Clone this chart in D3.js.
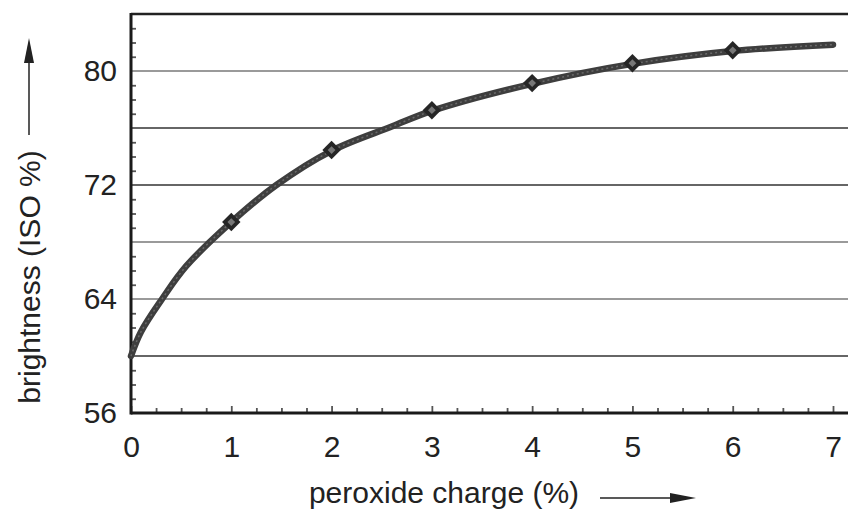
<!DOCTYPE html>
<html>
<head>
<meta charset="utf-8">
<script src="https://cdn.jsdelivr.net/npm/d3@7"></script>
<style>
  body { margin: 0; background: #fff; }
  text { font-family: "Liberation Sans", Arial, Helvetica, sans-serif; fill: #222; }
</style>
</head>
<body>
<svg id="chart" width="848" height="512"></svg>
<script>
// measured points (diamonds)
const charge = [1, 2, 3, 4, 5, 6];
const brightness = [69.4, 74.45, 77.25, 79.15, 80.55, 81.45];

// fitted curve
const curveCharge = [0, 0.1, 0.31, 0.55, 1, 1.45, 2, 2.6, 3, 4, 5, 6, 7];
const curveBrightness = [60, 61.7, 64, 66.3, 69.4, 72, 74.4, 76.1, 77.2, 79.1, 80.5, 81.4, 81.85];

const xTicks = [0, 1, 2, 3, 4, 5, 6, 7];
const yTicks = [56, 64, 72, 80];
const gridValues = [60, 64, 68, 72, 76, 80];

const svg = d3.select('#chart');
const x = d3.scaleLinear().domain([0, 7]).range([131, 833]);
const y = d3.scaleLinear().domain([56, 80]).range([413, 71]);
const rightEdge = 848;
const topY = y(84);

// gridlines, alternate grey / dark like the scan
const lightGrid = new Set([80, 68, 64]);
svg.append('g').selectAll('line')
    .data(gridValues)
    .join('line')
    .attr('x1', x(0)).attr('x2', rightEdge)
    .attr('y1', d => y(d)).attr('y2', d => y(d))
    .attr('stroke', d => lightGrid.has(d) ? '#9a9a9a' : '#333')
    .attr('stroke-width', d => lightGrid.has(d) ? 2 : 1.4);

// top border
svg.append('line')
    .attr('x1', x(0)).attr('x2', rightEdge)
    .attr('y1', topY).attr('y2', topY)
    .attr('stroke', '#222').attr('stroke-width', 2.5);

// x axis: minor ticks + labelled major ticks
const xMinor = d3.range(0, 29).map(i => i * 0.25).filter(v => v % 1 !== 0);
const xMinorAxis = svg.append('g')
    .attr('transform', `translate(0,${y(56)})`)
    .call(d3.axisBottom(x).tickValues(xMinor).tickSize(-5).tickFormat(''));
const xAxis = svg.append('g')
    .attr('transform', `translate(0,${y(56)})`)
    .call(d3.axisBottom(x).tickValues(xTicks).tickSize(-7).tickPadding(23).tickFormat(d3.format('d')));

// y axis
const yMinor = d3.range(57, 84).filter(v => (v - 56) % 4 !== 0);
const yMinorAxis = svg.append('g')
    .attr('transform', `translate(${x(0)},0)`)
    .call(d3.axisLeft(y).tickValues(yMinor).tickSize(-5).tickFormat(''));
const yAxis = svg.append('g')
    .attr('transform', `translate(${x(0)},0)`)
    .call(d3.axisLeft(y).tickValues(yTicks).tickSize(0).tickPadding(14).tickFormat(d3.format('d')));

[xMinorAxis, xAxis, yMinorAxis, yAxis].forEach(g => {
    g.select('.domain').remove();
    g.selectAll('.tick line').attr('stroke', '#555').attr('stroke-width', 1.8);
    g.selectAll('text').attr('font-size', 30).attr('fill', '#222')
        .attr('font-family', '"Liberation Sans", Arial, sans-serif');
});

// axis lines (thick)
svg.append('line')
    .attr('x1', x(0)).attr('x2', rightEdge)
    .attr('y1', y(56)).attr('y2', y(56))
    .attr('stroke', '#1a1a1a').attr('stroke-width', 3);
svg.append('line')
    .attr('x1', x(0)).attr('x2', x(0))
    .attr('y1', topY - 1).attr('y2', y(56) + 1.5)
    .attr('stroke', '#1a1a1a').attr('stroke-width', 3);

// curve
const line = d3.line()
    .x(d => x(d[0]))
    .y(d => y(d[1]))
    .curve(d3.curveCatmullRom.alpha(0.5));
const curvePts = curveCharge.map((c, i) => [c, curveBrightness[i]]);
svg.append('path')
    .datum(curvePts)
    .attr('d', line)
    .attr('fill', 'none')
    .attr('stroke', '#3e3e3e')
    .attr('stroke-width', 6.5)
    .attr('stroke-linecap', 'round');
svg.append('path')
    .datum(curvePts)
    .attr('d', line)
    .attr('fill', 'none')
    .attr('stroke', '#6a6a6a')
    .attr('stroke-width', 1.5)
    .attr('stroke-dasharray', '2,3');

// diamonds
const diamond = d3.symbol().type(d3.symbolSquare).size(170);
const marks = svg.append('g').selectAll('g')
    .data(charge)
    .join('g')
    .attr('transform', (d, i) => `translate(${x(d)},${y(brightness[i])}) rotate(45)`);
marks.append('path').attr('d', diamond).attr('fill', '#262626');
marks.append('path').attr('d', d3.symbol().type(d3.symbolSquare).size(30)).attr('fill', '#777');

// axis titles with arrows
svg.append('text')
    .attr('x', 444).attr('y', 503)
    .attr('text-anchor', 'middle')
    .attr('font-size', 30)
    .text('peroxide charge (%)');
svg.append('line')
    .attr('x1', 600).attr('x2', 672).attr('y1', 498).attr('y2', 498)
    .attr('stroke', '#222').attr('stroke-width', 1.5);
svg.append('path')
    .attr('d', 'M670,493 L696,498 L670,503 Z')
    .attr('fill', '#222');

svg.append('text')
    .attr('transform', 'translate(40,277) rotate(-90)')
    .attr('text-anchor', 'middle')
    .attr('font-size', 30)
    .text('brightness (ISO %)');
svg.append('line')
    .attr('x1', 29).attr('x2', 29).attr('y1', 135).attr('y2', 60)
    .attr('stroke', '#222').attr('stroke-width', 1.5);
svg.append('path')
    .attr('d', 'M24,63 L29,38 L34,63 Z')
    .attr('fill', '#222');
</script>
</body>
</html>
